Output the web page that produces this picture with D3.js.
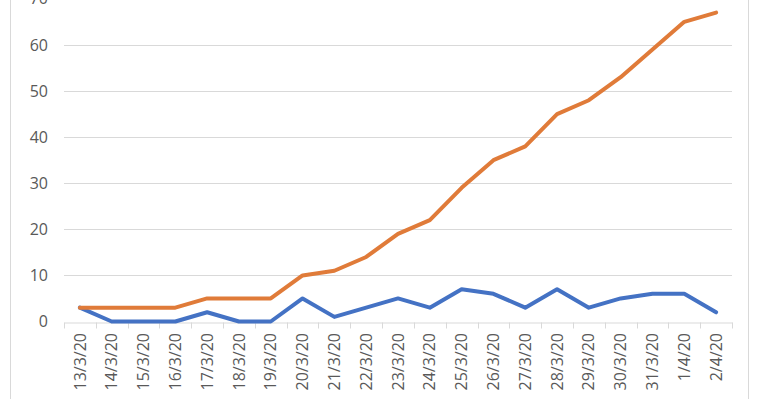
<!DOCTYPE html>
<html>
<head>
<meta charset="utf-8">
<script src="https://cdn.jsdelivr.net/npm/d3@7"></script>
<style>
  body { margin: 0; background: #fff; }
  svg { display: block; }
</style>
</head>
<body>
<script>
let dates = ["13/3/20", "14/3/20", "15/3/20", "16/3/20", "17/3/20", "18/3/20", "19/3/20", "20/3/20", "21/3/20", "22/3/20",
  "23/3/20", "24/3/20", "25/3/20", "26/3/20", "27/3/20", "28/3/20", "29/3/20", "30/3/20", "31/3/20", "1/4/20", "2/4/20"];
let blueValues = [3, 0, 0, 0, 2, 0, 0, 5, 1, 3, 5, 3, 7, 6, 3, 7, 3, 5, 6, 6, 2];
let orangeValues = [3, 3, 3, 3, 5, 5, 5, 10, 11, 14, 19, 22, 29, 35, 38, 45, 48, 53, 59, 65, 67];
let yTicks = [0, 10, 20, 30, 40, 50, 60, 70];

let width = 760,
  height = 399,
  left = 64,
  right = 732,
  zeroY = 321.5,
  topY = -1.2;

let svg = d3.select("body").append("svg")
  .attr("width", width)
  .attr("height", height);

// chart frame
svg.append("line").attr("x1", 10.5).attr("x2", 10.5).attr("y1", 0).attr("y2", height)
  .attr("stroke", "#d9d9d9");
svg.append("line").attr("x1", 748.5).attr("x2", 748.5).attr("y1", 0).attr("y2", height)
  .attr("stroke", "#d9d9d9");

let x = d3.scaleBand().domain(dates).range([left, right]);
let y = d3.scaleLinear().domain([0, 70]).range([zeroY, topY]);

// gridlines
svg.append("g").selectAll("line")
  .data(yTicks.filter(d => d > 0))
  .enter().append("line")
  .attr("x1", left).attr("x2", right)
  .attr("y1", d => Math.round(y(d)) + 0.5)
  .attr("y2", d => Math.round(y(d)) + 0.5)
  .attr("stroke", "#d9d9d9");

// y labels
svg.append("g").selectAll("text")
  .data(yTicks)
  .enter().append("text")
  .attr("x", 48)
  .attr("y", d => y(d))
  .attr("dy", "0.35em")
  .attr("text-anchor", "end")
  .attr("font-family", "'Open Sans', sans-serif")
  .attr("font-size", "16px")
  .attr("fill", "#595959")
  .text(d => d);

// x axis
let xAxis = svg.append("g")
  .attr("transform", `translate(0, ${Math.round(zeroY) + 0.5})`)
  .call(d3.axisBottom(x).tickSize(0).tickFormat(""));
xAxis.select(".domain").attr("stroke", "#d9d9d9");
xAxis.selectAll(".tick").remove();

let tickPos = dates.map(d => x(d)).concat([right]);
xAxis.selectAll("line.tk")
  .data(tickPos)
  .enter().append("line").classed("tk", true)
  .attr("x1", d => Math.round(d) + 0.5).attr("x2", d => Math.round(d) + 0.5)
  .attr("y1", 0).attr("y2", 6)
  .attr("stroke", "#d9d9d9");

svg.append("g").selectAll("text")
  .data(dates)
  .enter().append("text")
  .attr("transform", d => `translate(${x(d) + x.bandwidth() / 2}, 333) rotate(-90)`)
  .attr("dy", "0.35em")
  .attr("text-anchor", "end")
  .attr("font-family", "'Open Sans', sans-serif")
  .attr("font-size", "16px")
  .attr("fill", "#595959")
  .text(d => d);

// series
let line = d3.line()
  .x((d, i) => x(dates[i]) + x.bandwidth() / 2)
  .y(d => y(d));

svg.append("path")
  .datum(blueValues)
  .attr("d", line)
  .attr("fill", "none")
  .attr("stroke", "#4472c4")
  .attr("stroke-width", 4)
  .attr("stroke-linejoin", "round")
  .attr("stroke-linecap", "round");

svg.append("path")
  .datum(orangeValues)
  .attr("d", line)
  .attr("fill", "none")
  .attr("stroke", "#e07b39")
  .attr("stroke-width", 4)
  .attr("stroke-linejoin", "round")
  .attr("stroke-linecap", "round");
</script>
</body>
</html>
